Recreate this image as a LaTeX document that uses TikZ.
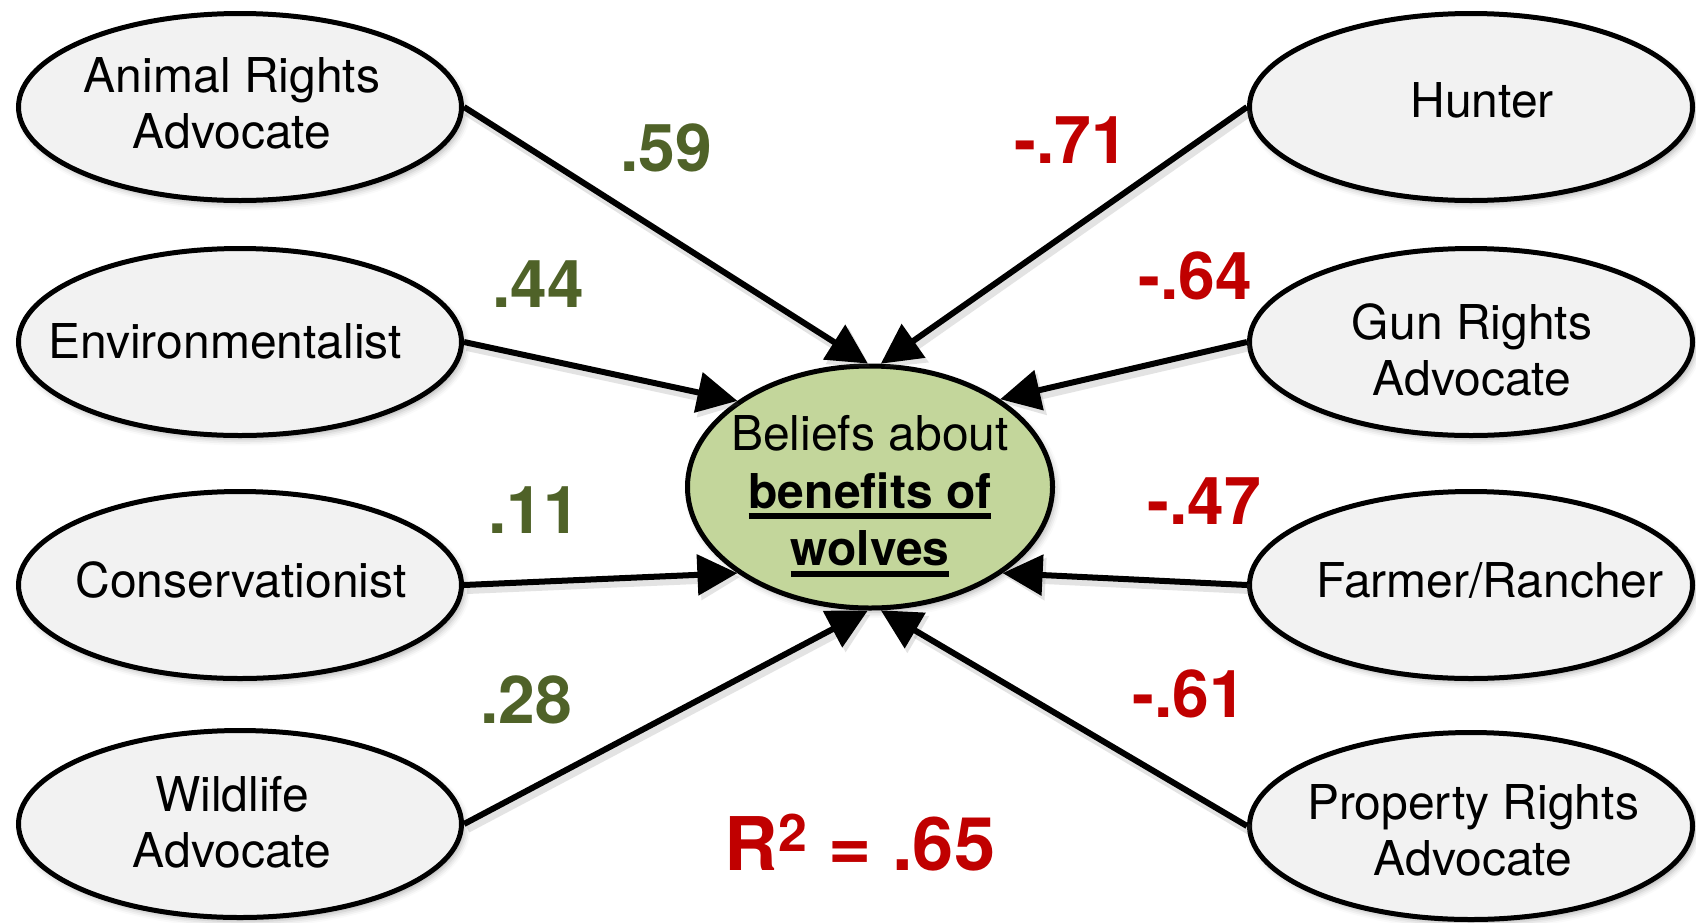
\documentclass[tikz,border=0pt]{standalone}
\usepackage{fontspec}
\setmainfont{TeX Gyre Heros}
\usetikzlibrary{arrows.meta,shapes.geometric,shadows.blur}

\definecolor{pathgreen}{HTML}{4F6228}
\definecolor{pathred}{HTML}{C00000}
\definecolor{groupfill}{HTML}{F2F2F2}
\definecolor{outcomefill}{HTML}{C3D69B}

% underline drawn as a rule below the word
\newcommand\ruledword[1]{\setbox0=\hbox{#1}\rlap{\rule[-5.5pt]{\wd0}{3pt}}\box0}

\begin{document}
\begin{tikzpicture}[x=0.5pt,y=-0.5pt,
  softshadow/.style={blur shadow={shadow xshift=1.5pt,shadow yshift=-2pt,
      shadow blur radius=3pt,shadow opacity=30}},
  group/.style={ellipse,draw,line width=2.5pt,fill=groupfill,
      minimum width=221.5pt,minimum height=93.5pt,inner sep=0pt,softshadow},
  grouptext/.style={align=center,inner sep=0pt,
      font=\fontsize{24}{28}\selectfont},
  outcome/.style={ellipse,draw,line width=2.5pt,fill=outcomefill,
      minimum width=182.5pt,minimum height=121pt,inner sep=0pt,softshadow},
  outcometext/.style={align=center,inner sep=0pt,
      font=\fontsize{24}{28.75}\selectfont},
  effect/.style={line width=3pt,-{Triangle[length=20pt,width=20pt]},
      preaction={draw=black!60,opacity=0.18,line width=5pt,
        transform canvas={xshift=1.5pt,yshift=-2pt}}},
  poslabel/.style={text=pathgreen,inner sep=0pt,
      font=\bfseries\fontsize{33}{36}\selectfont},
  neglabel/.style={text=pathred,inner sep=0pt,
      font=\bfseries\fontsize{33}{36}\selectfont}]

\useasboundingbox (0,0) rectangle (1696,922);

% outcome
\node[outcome] (c) at (870,487) {};
\node[outcometext] (ct) at (870,496) {Beliefs about\\
  \textbf{\ruledword{benefits of}}\\ \textbf{\ruledword{wolves}}};

% left-hand groups
\node[group] (ar)  at (240,107) {};
\node[grouptext] (art) at (232,103) {Animal Rights\\Advocate};
\node[group] (env) at (240,342) {};
\node[grouptext] (envt) at (225,341) {Environmentalist};
\node[group] (con) at (240,585) {};
\node[grouptext] (cont) at (241,580) {Conservationist};
\node[group] (wild) at (240,824) {};
\node[grouptext] (wildt) at (232,822) {Wildlife\\Advocate};

% right-hand groups
\node[group] (hunt) at (1471,107) {};
\node[grouptext] (huntt) at (1482,100) {Hunter};
\node[group] (gun)  at (1471,342) {};
\node[grouptext] (gunt) at (1472,350) {Gun Rights\\Advocate};
\node[group] (farm) at (1471,585) {};
\node[grouptext] (farmt) at (1490,580) {Farmer/Rancher};
\node[group] (prop) at (1471,826) {};
\node[grouptext] (propt) at (1473,830) {Property Rights\\Advocate};

% paths into the outcome
\draw[effect] (ar.east)   -- (c.91.5);
\draw[effect] (env.east)  -- (c.147);
\draw[effect] (con.east)  -- (c.213);
\draw[effect] (wild.east) -- (c.269);
\draw[effect] (hunt.west) -- (c.85);
\draw[effect] (gun.west)  -- (c.34);
\draw[effect] (farm.west) -- (c.327);
\draw[effect] (prop.west) -- (c.275.5);

% path coefficients
\node[poslabel] (l59) at (666,148) {.59};
\node[poslabel] (l44) at (538,284) {.44};
\node[poslabel] (l11) at (534,510) {.11};
\node[poslabel] (l28) at (526,700) {.28};
\node[neglabel] (l71) at (1071,140) {-.71};
\node[neglabel] (l64) at (1195,276) {-.64};
\node[neglabel] (l47) at (1204,501) {-.47};
\node[neglabel] (l61) at (1189,694) {-.61};

% explained variance
\node[text=pathred,inner sep=0pt,anchor=base,
  font=\bfseries\fontsize{37}{40}\selectfont] (rsq) at (860,870)
  {R\textsuperscript{2} = .65};
\end{tikzpicture}
\end{document}
